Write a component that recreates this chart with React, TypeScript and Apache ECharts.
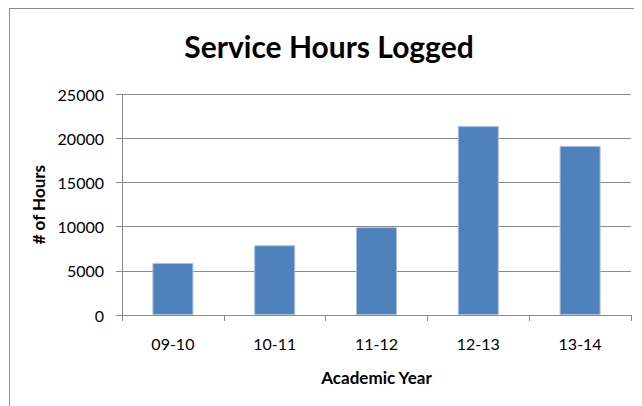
import React, { useEffect, useRef } from "react";
import * as echarts from "echarts";

const titleText = "Service Hours Logged";
const categories = ["09-10", "10-11", "11-12", "12-13", "13-14"];
const hours = [5900, 7900, 9950, 21400, 19150];
const yMin = 0;
const yMax = 25000;
const yInterval = 5000;
const xName = "Academic Year";
const yName = "# of Hours";

const FONT = "Lato, 'Open Sans', sans-serif";
const AXIS_GRAY = "#8c8c8c";

export default function App() {
  const ref = useRef<HTMLDivElement>(null);
  useEffect(() => {
    if (!ref.current) return;
    const chart = echarts.init(ref.current, null, { renderer: "svg" });
    chart.setOption({
      animation: false,
      backgroundColor: "#ffffff",
      textStyle: { fontFamily: FONT },
      title: {
        text: titleText,
        left: 316,
        textAlign: "center",
        top: 18,
        textStyle: { fontFamily: FONT, fontSize: 30, fontWeight: "bold", color: "#000000" },
      },
      graphic: [
        { type: "line", shape: { x1: 1.5, y1: 0, x2: 1.5, y2: 400 }, style: { stroke: AXIS_GRAY, lineWidth: 1 } },
        { type: "line", shape: { x1: 1, y1: 0.5, x2: 640, y2: 0.5 }, style: { stroke: AXIS_GRAY, lineWidth: 1 } },
      ],
      grid: { left: 114, right: 11, top: 86.3, bottom: 91, containLabel: false },
      xAxis: {
        type: "category",
        data: categories,
        name: xName,
        nameLocation: "middle",
        nameGap: 54,
        nameTextStyle: { fontFamily: FONT, fontSize: 17, fontWeight: "bold", color: "#000000" },
        axisLine: { show: true, lineStyle: { color: AXIS_GRAY, width: 1 } },
        axisTick: { show: true, length: 6, alignWithLabel: false, lineStyle: { color: AXIS_GRAY } },
        axisLabel: { fontFamily: FONT, fontSize: 16, color: "#000000", margin: 20 },
      },
      yAxis: {
        type: "value",
        min: yMin,
        max: yMax,
        interval: yInterval,
        name: yName,
        nameLocation: "middle",
        nameRotate: 90,
        nameGap: 67,
        nameTextStyle: { fontFamily: FONT, fontSize: 17, fontWeight: "bold", color: "#000000" },
        axisLine: { show: true, lineStyle: { color: AXIS_GRAY, width: 1 } },
        axisTick: { show: true, length: 6, lineStyle: { color: AXIS_GRAY } },
        axisLabel: {
          fontFamily: FONT,
          fontSize: 16,
          color: "#000000",
          margin: 18,
          formatter: (v: number) => String(v),
        },
        splitLine: { show: true, lineStyle: { color: AXIS_GRAY, width: 1 } },
      },
      series: [
        {
          type: "bar",
          data: hours,
          barWidth: 41,
          itemStyle: { color: "#4f81bd", borderColor: "#a9c1df", borderWidth: 1 },
        },
      ],
    });
    return () => chart.dispose();
  }, []);
  return <div ref={ref} style={{ width: 634, height: 398 }} />;
}
